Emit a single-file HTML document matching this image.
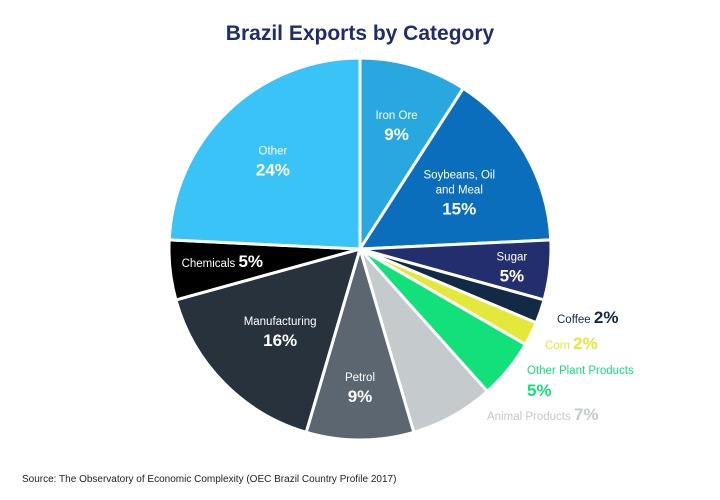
<!DOCTYPE html>
<html><head><meta charset="utf-8"><style>
body{margin:0;background:#fff;font-family:"Liberation Sans",sans-serif}
svg{display:block}
</style></head><body>
<svg id="chart" width="720" height="500">
<text x="360" y="40" text-anchor="middle" font-size="21" font-weight="bold" fill="#1f2d6b">Brazil Exports by Category</text>
<g id="slices"></g>
<g id="labels"></g>
<text x="22" y="482" font-size="10" fill="#222">Source: The Observatory of Economic Complexity (OEC Brazil Country Profile 2017)</text>
</svg>
<script>
const categories=["Iron Ore","Soybeans, Oil and Meal","Sugar","Coffee","Corn","Other Plant Products","Animal Products","Petrol","Manufacturing","Chemicals","Other"];
const values=[9,15,5,2,2,5,7,9,16,5,24];
const colors=["#29a8e0","#0a6ebd","#222e6e","#132a47","#e3e83a","#12e07a","#c5cacc","#5b6670","#27323c","#000000","#3ac3f7"];
const cx=360,cy=249,R=191;
const NS="http://www.w3.org/2000/svg";
const total=values.reduce((a,b)=>a+b,0);
function pt(a,r){return [cx+r*Math.sin(a),cy-r*Math.cos(a)];}
const sg=document.getElementById('slices'),lg=document.getElementById('labels');
let acc=0;
const mids=[];
values.forEach((v,i)=>{
  const a0=acc/total*2*Math.PI; acc+=v; const a1=acc/total*2*Math.PI;
  mids.push((a0+a1)/2);
  const p0=pt(a0,R),p1=pt(a1,R);
  const path=document.createElementNS(NS,'path');
  path.setAttribute('d',`M${cx},${cy}L${p0[0]},${p0[1]}A${R},${R} 0 ${a1-a0>Math.PI?1:0} 1 ${p1[0]},${p1[1]}Z`);
  path.setAttribute('fill',colors[i]);
  path.setAttribute('stroke','#fff');
  path.setAttribute('stroke-width','3');
  path.setAttribute('stroke-linejoin','round');
  
  
  sg.appendChild(path);
});
function txt(x,y,s,size,fill,anchor,weight){
  const t=document.createElementNS(NS,'text');
  t.setAttribute('x',x);t.setAttribute('y',y);t.setAttribute('font-size',size);
  t.setAttribute('fill',fill);t.setAttribute('text-anchor',anchor||'middle');
  if(weight)t.setAttribute('font-weight',weight);
  t.textContent=s;
  
  
  lg.appendChild(t);return t;
}
const inside={0:[0.68,["Iron Ore"]],1:[0.6,["Soybeans, Oil","and Meal"]],2:[0.8,["Sugar"]],7:[0.72,["Petrol"]],8:[0.55,["Manufacturing"]],10:[0.6,["Other"]]};
Object.keys(inside).forEach(k=>{
  const i=+k,[f,lines]=inside[k];const p=pt(mids[i],R*f);
  let dy=(i==8)?8:(i==10?-6:0), dx=(i==8)?-5:(i==10?-8:0);
  const n=lines.length;let y=p[1]-(n*15+20)/2+12+dy;
  lines.forEach(l=>{txt(p[0]+dx,y,l,11.5,'#fff');y+=15;});
  txt(p[0]+dx,y+6,values[i]+'%',17,'#fff','middle','bold');
});
{const p=pt(mids[9],R*0.62);const t=txt(p[0]-20,p[1]+5,'',11.5,'#fff');
 t.innerHTML='Chemicals <tspan font-size="17" font-weight="bold">'+values[9]+'%</tspan>';}
function outside(i,x,y,col,twoLine){
  const t=txt(x,y,'',11.5,col,'start');
  if(twoLine){t.textContent=categories[i];txt(x,y+22,values[i]+'%',17,col,'start','bold');}
  else t.innerHTML=categories[i]+' <tspan font-size="17" font-weight="bold">'+values[i]+'%</tspan>';
}
outside(3,557,323,'#132a47');
outside(4,545,349,'#e3e83a');
outside(5,527,374,'#12e07a',true);
outside(6,487,420,'#c5cacc');
</script>
</body></html>
